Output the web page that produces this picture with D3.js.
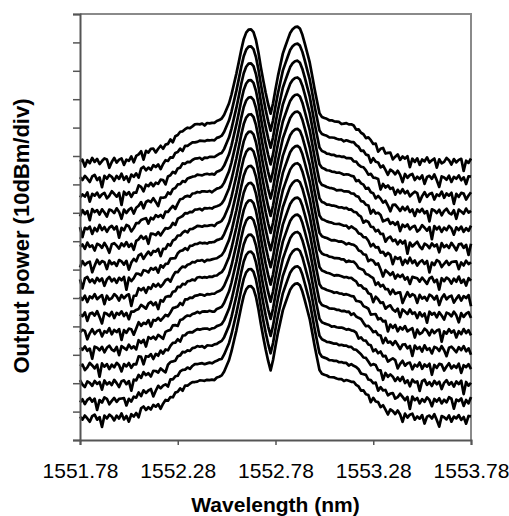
<!DOCTYPE html>
<html>
<head>
<meta charset="utf-8">
<script src="https://cdn.jsdelivr.net/npm/d3@7"></script>
<style>
  body { margin: 0; background: #fff; }
  svg { display: block; }
</style>
</head>
<body>
<script>
// tick labels on the wavelength axis
const wavelengthTicks = [1551.78, 1552.28, 1552.78, 1553.28, 1553.78];

// spectrum shape (dB above the noise floor)
const shapeWavelength = [1551.78, 1552.0, 1552.06, 1552.08, 1552.205, 1552.307, 1552.378, 1552.46, 1552.51,
  1552.547, 1552.583, 1552.614, 1552.632, 1552.65, 1552.668, 1552.685, 1552.71, 1552.737, 1552.757,
  1552.788, 1552.818, 1552.854, 1552.872, 1552.89, 1552.906, 1552.92, 1552.956, 1552.982, 1553.008,
  1553.059, 1553.176, 1553.263, 1553.35, 1553.432, 1553.52, 1553.78];
const shapePower = [0, 0.3, 0.6, 2.6, 4.9, 10.9, 13.0, 13.4, 15.1,
  21.1, 31.7, 42.3, 45.6, 46.8, 45.4, 41.5, 31, 21.5, 16.2,
  28.5, 38, 45, 46.9, 47.5, 46.6, 44, 34.5, 24.6, 15.8,
  14.4, 12.7, 7.4, 2.8, 1.1, 0.2, 0];

// noise floor level of each trace (dB), bottom to top
const floorLevels = [7.8, 13.8, 19.9, 25.9, 32.0, 38.0, 44.1, 50.1, 56.2, 62.2, 68.3, 74.3, 80.3, 86.2, 92.2, 98.2];

// floor ripple (dB), one value every 0.0125 nm across the span
const ripple = [
  0.3,-0.5,0.6,-0.2,-1.1,0.4,0.8,-0.6,0.1,-2.6,
  0.5,-0.3,0.7,0.2,-0.9,0.4,-0.4,1.0,-0.7,0.2,
  -1.4,0.6,-0.1,0.3,-2.2,0.5,0.9,-0.5,0.2,-0.8,
  0.6,-0.3,0.4,-1.6,0.1,0.8,-0.4,0.3,-0.9,0.5,
  -0.2,0.7,-2.9,0.4,-0.6,0.2,0.9,-0.3,-1.0,0.5,
  0.1,-0.7,0.6,-0.2,0.3,-1.8,0.7,-0.4,0.2,-0.6,
  0.8,-0.1,-1.2,0.4,0.6,-0.5,0.3,-2.4,0.6,-0.2,
  0.4,-0.8,0.9,-0.3,0.1,-1.3,0.5,0.2,-0.6,0.7,
  -0.4,-2.0,0.3,0.6,-0.1,-0.9,0.5,-0.3,0.8,-0.6,
  0.2,-1.5,0.4,-0.2,0.7,-0.5,0.1,-2.7,0.6,0.3,
  -0.4,0.5,-1.0,0.2,0.8,-0.3,-0.7,0.4,-1.9,0.6,
  0.1,-0.5,0.9,-0.2,0.3,-1.2,0.5,-0.6,0.2,-2.3,
  0.7,-0.1,0.4,-0.8,0.6,-0.3,-1.4,0.5,0.2,-0.5,
  0.8,-0.2,-2.1,0.4,-0.6,0.3,0.7,-0.9,0.1,-0.4,
  0.6,-1.7,0.2,0.5,-0.3,0.9,-0.7,-2.5,0.4,0.1,
  -0.5,0.6,-1.1,0.3,-0.2,0.7,-0.6,0.2,-1.6,0.5,
  0.4
];

var margin = { top: 14, right: 38, bottom: 76, left: 80 },
  width = 509 - margin.left - margin.right,
  height = 516 - margin.top - margin.bottom;

var svg = d3.select("body").append("svg")
  .attr("width", 509)
  .attr("height", 516);

var g = svg.append("g").attr("transform", "translate(" + margin.left + "," + margin.top + ")");

var x = d3.scaleLinear().domain([1551.78, 1553.78]).range([0, width]);
var y = d3.scaleLinear().domain([0, 150]).range([height, 0]);

// spectrum shape lookup
var shape = d3.scaleLinear().domain(shapeWavelength).range(shapePower).clamp(true);

// plot area border (top / right)
g.append("path")
  .attr("d", "M0,0H" + width + "V" + height)
  .attr("fill", "none")
  .attr("stroke", "#8a8a8a")
  .attr("stroke-width", 2);

// traces
var line = d3.line()
  .x(function (d) { return x(d.w); })
  .y(function (d) { return y(d.p); });

var n = ripple.length;
floorLevels.forEach(function (floor, t) {
  var pts = ripple.map(function (r, i) {
    var w = 1551.78 + i * 0.0125;
    var base = shape(w);
    var k = (t % 2 === 0 ? i + t * 23 : n - 1 - i + t * 17) % n;
    var weight = 1.3 * Math.max(0, 1 - base / 16);
    return { w: w, p: floor + base + ripple[k] * weight };
  });
  g.append("path")
    .datum(pts)
    .attr("fill", "none")
    .attr("stroke", "#000")
    .attr("stroke-width", 2.7)
    .attr("stroke-linejoin", "round")
    .attr("d", line);
});

// axes
var xAxis = g.append("g")
  .attr("transform", "translate(0," + height + ")")
  .call(d3.axisBottom(x).tickValues(wavelengthTicks).tickFormat(d3.format(".2f")).tickSize(5).tickPadding(18));
var yAxis = g.append("g")
  .call(d3.axisLeft(y).tickValues(d3.range(0, 151, 10)).tickFormat("").tickSize(7));

[xAxis, yAxis].forEach(function (a) {
  a.select(".domain").attr("stroke", "#555").attr("stroke-width", 2);
  a.selectAll(".tick line").attr("stroke", "#555").attr("stroke-width", 1.5);
  a.selectAll("text")
    .attr("fill", "#000")
    .style("font-family", "'Liberation Sans', Arial, sans-serif")
    .style("font-size", "21px");
});

// axis titles
svg.append("text")
  .attr("x", margin.left + width / 2)
  .attr("y", 512)
  .attr("text-anchor", "middle")
  .style("font-family", "'Liberation Sans', Arial, sans-serif")
  .style("font-weight", "bold")
  .style("font-size", "21px")
  .text("Wavelength (nm)");

svg.append("text")
  .attr("transform", "translate(29,236) rotate(-90)")
  .attr("text-anchor", "middle")
  .style("font-family", "'Liberation Sans', Arial, sans-serif")
  .style("font-weight", "bold")
  .style("font-size", "22px")
  .text("Output power (10dBm/div)");
</script>
</body>
</html>
